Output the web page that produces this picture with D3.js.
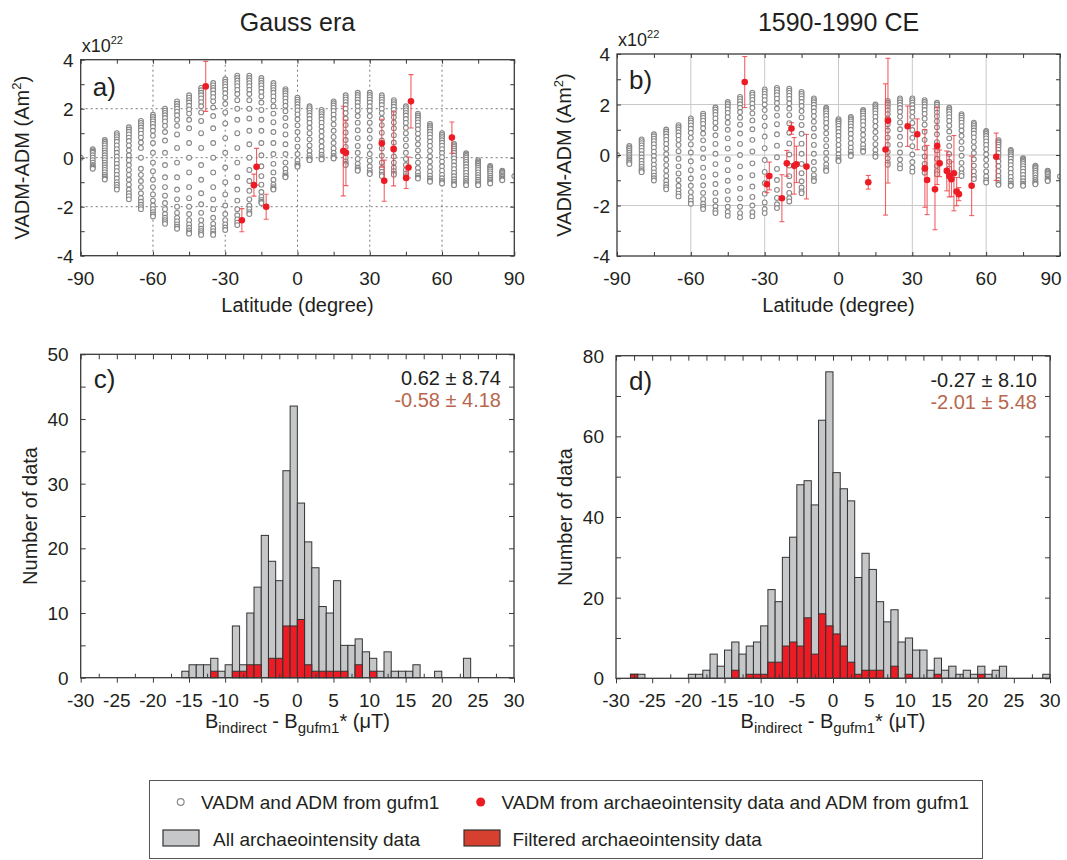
<!DOCTYPE html>
<html>
<head>
<meta charset="utf-8">
<script src="https://cdn.jsdelivr.net/npm/d3@7/dist/d3.min.js"></script>
<style>
    body { margin: 0; background: #fff; }
    svg text { font-family: "Liberation Sans", Arial, Helvetica, sans-serif; fill: #231f20; }
</style>
</head>
<body>
<svg id="fig" width="1067" height="860"></svg>
<script>
"use strict";

// gufm1 VADM-ADM (x1e22 Am2) per latitude column, Gauss era
var gaussCols = [
    [-90, [0]],
    [-85, [0.35, 0.3, 0.25, 0.2, 0.1, 0, -0.1, -0.2, -0.3, -0.35, -0.4, -0.45]],
    [-80, [0.72, 0.65, 0.58, 0.5, 0.4, 0.3, 0.2, 0.1, 0, -0.1, -0.2, -0.3, -0.4, -0.5, -0.6, -0.7, -0.78, -0.85, -0.89]],
    [-75, [1.0, 0.92, 0.84, 0.75, 0.65, 0.5, 0.35, 0.2, 0.05, -0.1, -0.25, -0.4, -0.55, -0.7, -0.85, -1.0, -1.1, -1.2, -1.3]],
    [-70, [1.24, 1.15, 1.06, 0.95, 0.82, 0.68, 0.5, 0.3, 0.1, -0.1, -0.3, -0.5, -0.7, -0.9, -1.1, -1.3, -1.45, -1.57, -1.7]],
    [-65, [1.5, 1.42, 1.33, 1.23, 1.12, 0.98, 0.82, 0.62, 0.4, 0, -0.45, -0.7, -0.95, -1.2, -1.45, -1.65, -1.8, -1.92, -2.02, -2.1]],
    [-60, [1.75, 1.66, 1.57, 1.48, 1.38, 1.25, 1.1, 0.9, 0.6, 0.2, -0.2, -0.55, -0.9, -1.2, -1.5, -1.75, -1.95, -2.1, -2.22, -2.32, -2.4]],
    [-55, [2.0, 1.92, 1.83, 1.73, 1.62, 1.48, 1.3, 1.05, 0.7, 0.2, -0.3, -0.8, -1.2, -1.55, -1.85, -2.1, -2.3, -2.45, -2.55, -2.63, -2.7]],
    [-50, [2.3, 2.2, 2.1, 2.0, 1.88, 1.73, 1.55, 1.3, 0.95, 0.4, -0.2, -0.8, -1.3, -1.7, -2.0, -2.25, -2.45, -2.6, -2.72, -2.82, -2.9]],
    [-45, [2.55, 2.45, 2.35, 2.25, 2.12, 1.97, 1.8, 1.55, 1.2, 0.6, 0, -0.6, -1.2, -1.65, -2.0, -2.3, -2.55, -2.72, -2.86, -2.97, -3.05, -3.1]],
    [-40, [2.85, 2.75, 2.65, 2.55, 2.42, 2.27, 2.1, 1.85, 1.5, 1.0, 0.4, -0.3, -0.9, -1.45, -1.9, -2.25, -2.55, -2.75, -2.9, -3.0, -3.08, -3.15]],
    [-35, [3.05, 2.95, 2.85, 2.75, 2.62, 2.47, 2.3, 2.05, 1.7, 1.2, 0.6, 0, -0.6, -1.2, -1.7, -2.1, -2.45, -2.7, -2.88, -3.0, -3.1, -3.15]],
    [-30, [3.2, 3.1, 3.0, 2.9, 2.78, 2.63, 2.45, 2.2, 1.85, 1.4, 0.8, 0.2, -0.4, -1.0, -1.5, -1.95, -2.3, -2.55, -2.72, -2.85, -2.95]],
    [-25, [3.35, 3.25, 3.15, 3.04, 2.92, 2.77, 2.6, 2.35, 2.0, 1.55, 1.0, 0.4, -0.2, -0.8, -1.3, -1.75, -2.1, -2.35, -2.52, -2.65, -2.75]],
    [-20, [3.35, 3.25, 3.15, 3.04, 2.92, 2.77, 2.6, 2.35, 2.0, 1.6, 1.1, 0.55, 0, -0.5, -0.95, -1.35, -1.7, -1.95, -2.1, -2.22, -2.3]],
    [-15, [3.25, 3.15, 3.05, 2.95, 2.83, 2.68, 2.5, 2.25, 1.95, 1.55, 1.1, 0.6, 0.1, -0.35, -0.75, -1.1, -1.4, -1.6, -1.72, -1.8, -1.85]],
    [-10, [3.05, 2.95, 2.86, 2.76, 2.65, 2.5, 2.33, 2.1, 1.8, 1.45, 1.05, 0.6, 0.15, -0.25, -0.6, -0.9, -1.1, -1.2, -1.27, -1.3]],
    [-5, [2.8, 2.72, 2.63, 2.53, 2.42, 2.28, 2.12, 1.9, 1.62, 1.3, 0.95, 0.55, 0.15, -0.2, -0.45, -0.62, -0.72, -0.78, -0.8]],
    [0, [2.45, 2.37, 2.28, 2.18, 2.07, 1.93, 1.77, 1.57, 1.32, 1.05, 0.75, 0.45, 0.15, -0.1, -0.25, -0.32, -0.37]],
    [5, [2.1, 2.02, 1.93, 1.83, 1.72, 1.58, 1.42, 1.22, 1.0, 0.75, 0.5, 0.28, 0.1, -0.02, -0.08, -0.1]],
    [10, [1.95, 1.87, 1.78, 1.68, 1.57, 1.43, 1.27, 1.08, 0.88, 0.67, 0.46, 0.27, 0.12, 0.02, -0.04, -0.07]],
    [15, [2.3, 2.22, 2.13, 2.03, 1.91, 1.76, 1.58, 1.36, 1.1, 0.85, 0.6, 0.38, 0.2, 0.07, 0, -0.03]],
    [20, [2.55, 2.46, 2.37, 2.27, 2.15, 2.0, 1.82, 1.6, 1.33, 1.03, 0.72, 0.44, 0.2, 0, -0.15, -0.24, -0.3]],
    [25, [2.65, 2.56, 2.47, 2.37, 2.25, 2.1, 1.92, 1.7, 1.43, 1.12, 0.8, 0.48, 0.2, -0.05, -0.25, -0.4, -0.48, -0.53]],
    [30, [2.65, 2.56, 2.47, 2.37, 2.25, 2.1, 1.92, 1.7, 1.43, 1.12, 0.8, 0.46, 0.15, -0.12, -0.35, -0.52, -0.62, -0.67]],
    [35, [2.55, 2.46, 2.37, 2.27, 2.15, 2.0, 1.82, 1.6, 1.33, 1.02, 0.7, 0.38, 0.08, -0.2, -0.42, -0.58, -0.69, -0.75]],
    [40, [2.35, 2.27, 2.18, 2.08, 1.96, 1.82, 1.65, 1.44, 1.2, 0.92, 0.62, 0.32, 0.05, -0.2, -0.4, -0.55, -0.65, -0.7]],
    [45, [2.1, 2.02, 1.93, 1.83, 1.72, 1.58, 1.42, 1.22, 1.0, 0.75, 0.48, 0.2, -0.05, -0.3, -0.5, -0.65, -0.75, -0.82]],
    [50, [1.8, 1.72, 1.64, 1.55, 1.44, 1.31, 1.16, 0.98, 0.78, 0.55, 0.3, 0.05, -0.2, -0.42, -0.6, -0.73, -0.81, -0.85]],
    [55, [1.38, 1.31, 1.24, 1.16, 1.06, 0.95, 0.82, 0.66, 0.48, 0.28, 0.06, -0.16, -0.38, -0.57, -0.73, -0.85, -0.93, -0.98]],
    [60, [1.0, 0.94, 0.87, 0.8, 0.71, 0.61, 0.49, 0.35, 0.19, 0.02, -0.16, -0.35, -0.53, -0.7, -0.84, -0.95, -1.01, -1.05]],
    [65, [0.56, 0.5, 0.44, 0.37, 0.29, 0.2, 0.09, -0.03, -0.17, -0.32, -0.47, -0.62, -0.76, -0.88, -0.98, -1.05, -1.1, -1.12]],
    [70, [0.18, 0.13, 0.07, 0, -0.08, -0.17, -0.27, -0.38, -0.5, -0.62, -0.74, -0.85, -0.95, -1.03, -1.08, -1.12]],
    [75, [-0.1, -0.15, -0.2, -0.26, -0.33, -0.41, -0.5, -0.6, -0.7, -0.8, -0.9, -0.98, -1.05, -1.1, -1.12]],
    [80, [-0.34, -0.38, -0.43, -0.49, -0.56, -0.64, -0.73, -0.82, -0.9, -0.97, -1.02, -1.05]],
    [85, [-0.53, -0.57, -0.62, -0.67, -0.73, -0.79, -0.85, -0.89, -0.92]],
    [90, [-0.75]]
];

// gufm1 VADM-ADM per latitude column, 1590-1990 CE
var histCols = [
    [-90, [0]],
    [-85, [0.36, 0.3, 0.24, 0.17, 0.09, 0, -0.09, -0.17, -0.24, -0.3, -0.36]],
    [-80, [0.62, 0.55, 0.47, 0.38, 0.28, 0.16, 0.03, -0.1, -0.23, -0.35, -0.46, -0.56, -0.63, -0.68]],
    [-75, [0.82, 0.74, 0.65, 0.55, 0.43, 0.29, 0.13, -0.04, -0.21, -0.38, -0.54, -0.69, -0.82, -0.92, -1.01]],
    [-70, [1.01, 0.93, 0.84, 0.73, 0.6, 0.44, 0.25, 0.04, -0.18, -0.4, -0.62, -0.83, -1.02, -1.17, -1.28, -1.36]],
    [-65, [1.18, 1.1, 1.01, 0.9, 0.77, 0.6, 0.4, 0.15, -0.15, -0.45, -0.73, -0.99, -1.22, -1.4, -1.53, -1.64]],
    [-60, [1.45, 1.37, 1.28, 1.17, 1.04, 0.88, 0.68, 0.42, 0.1, -0.25, -0.6, -0.93, -1.22, -1.47, -1.67, -1.82, -1.93]],
    [-55, [1.64, 1.56, 1.47, 1.36, 1.23, 1.06, 0.85, 0.58, 0.25, -0.12, -0.5, -0.87, -1.2, -1.5, -1.75, -1.93, -2.05, -2.14]],
    [-50, [1.88, 1.8, 1.7, 1.59, 1.45, 1.28, 1.06, 0.78, 0.44, 0.05, -0.36, -0.77, -1.15, -1.5, -1.8, -2.03, -2.2, -2.3]],
    [-45, [2.1, 2.02, 1.92, 1.81, 1.67, 1.5, 1.28, 1.0, 0.66, 0.26, -0.17, -0.6, -1.02, -1.42, -1.76, -2.05, -2.26, -2.41]],
    [-40, [2.3, 2.22, 2.12, 2.01, 1.87, 1.7, 1.48, 1.2, 0.85, 0.44, 0, -0.45, -0.9, -1.33, -1.72, -2.05, -2.3, -2.47]],
    [-35, [2.47, 2.39, 2.29, 2.18, 2.04, 1.87, 1.65, 1.37, 1.02, 0.6, 0.14, -0.33, -0.8, -1.25, -1.66, -2.0, -2.27, -2.43]],
    [-30, [2.6, 2.52, 2.42, 2.31, 2.17, 2.0, 1.78, 1.5, 1.15, 0.73, 0.27, -0.2, -0.67, -1.12, -1.53, -1.88, -2.14, -2.3]],
    [-25, [2.66, 2.58, 2.48, 2.37, 2.23, 2.06, 1.84, 1.56, 1.22, 0.82, 0.37, -0.09, -0.55, -0.99, -1.38, -1.7, -1.95, -2.1]],
    [-20, [2.63, 2.55, 2.46, 2.35, 2.22, 2.05, 1.84, 1.58, 1.26, 0.88, 0.46, 0.02, -0.42, -0.84, -1.2, -1.5, -1.71, -1.84]],
    [-15, [2.5, 2.42, 2.33, 2.23, 2.1, 1.94, 1.74, 1.49, 1.19, 0.84, 0.45, 0.05, -0.35, -0.72, -1.04, -1.29, -1.44, -1.51]],
    [-10, [2.24, 2.17, 2.09, 1.99, 1.87, 1.72, 1.54, 1.32, 1.05, 0.74, 0.4, 0.05, -0.28, -0.57, -0.8, -0.95, -1.03]],
    [-5, [1.87, 1.81, 1.74, 1.65, 1.55, 1.42, 1.27, 1.08, 0.86, 0.61, 0.35, 0.09, -0.16, -0.37, -0.52, -0.6, -0.63]],
    [0, [1.42, 1.37, 1.31, 1.24, 1.15, 1.04, 0.91, 0.76, 0.59, 0.4, 0.21, 0.03, -0.11, -0.2, -0.24]],
    [5, [1.51, 1.46, 1.4, 1.33, 1.24, 1.13, 1.0, 0.84, 0.66, 0.47, 0.29, 0.13, 0.02, -0.04]],
    [10, [1.78, 1.72, 1.65, 1.56, 1.46, 1.33, 1.18, 1.0, 0.8, 0.6, 0.41, 0.26, 0.16, 0.13]],
    [15, [2.0, 1.93, 1.85, 1.76, 1.65, 1.51, 1.34, 1.14, 0.91, 0.67, 0.43, 0.2, 0.02, -0.07]],
    [20, [2.14, 2.07, 1.99, 1.89, 1.77, 1.62, 1.44, 1.22, 0.97, 0.69, 0.4, 0.12, -0.13, -0.3, -0.39]],
    [25, [2.24, 2.17, 2.08, 1.98, 1.86, 1.71, 1.52, 1.29, 1.02, 0.72, 0.41, 0.1, -0.18, -0.39, -0.53]],
    [30, [2.24, 2.17, 2.08, 1.98, 1.85, 1.7, 1.51, 1.27, 0.99, 0.68, 0.35, 0.02, -0.28, -0.5, -0.66]],
    [35, [2.17, 2.1, 2.01, 1.91, 1.78, 1.63, 1.44, 1.2, 0.92, 0.6, 0.27, -0.06, -0.35, -0.57, -0.7]],
    [40, [2.07, 2.0, 1.91, 1.81, 1.68, 1.53, 1.34, 1.1, 0.82, 0.51, 0.18, -0.15, -0.43, -0.64, -0.76]],
    [45, [1.87, 1.8, 1.72, 1.62, 1.5, 1.35, 1.16, 0.93, 0.66, 0.36, 0.04, -0.27, -0.54, -0.75, -0.86]],
    [50, [1.62, 1.56, 1.48, 1.39, 1.28, 1.14, 0.97, 0.76, 0.52, 0.25, -0.03, -0.31, -0.55, -0.73, -0.83]],
    [55, [1.28, 1.22, 1.15, 1.07, 0.97, 0.85, 0.7, 0.52, 0.31, 0.08, -0.17, -0.42, -0.65, -0.83, -0.95]],
    [60, [0.95, 0.9, 0.83, 0.75, 0.66, 0.54, 0.4, 0.23, 0.03, -0.19, -0.42, -0.65, -0.85, -1.0, -1.09]],
    [65, [0.59, 0.54, 0.48, 0.41, 0.32, 0.21, 0.08, -0.07, -0.25, -0.44, -0.64, -0.83, -0.99, -1.11, -1.18]],
    [70, [0.2, 0.16, 0.1, 0.03, -0.05, -0.15, -0.27, -0.4, -0.55, -0.71, -0.87, -1.02, -1.13, -1.2, -1.22]],
    [75, [-0.13, -0.17, -0.22, -0.28, -0.35, -0.44, -0.54, -0.66, -0.79, -0.92, -1.04, -1.14, -1.2, -1.22]],
    [80, [-0.42, -0.45, -0.5, -0.56, -0.63, -0.71, -0.8, -0.9, -0.99, -1.07, -1.13, -1.16]],
    [85, [-0.62, -0.65, -0.69, -0.74, -0.8, -0.87, -0.93, -0.98, -1.01, -1.03]],
    [90, [-0.85]]
];

// archaeointensity VADM - gufm1 ADM: [latitude, value, error]
var gaussArch = [
    [-38.1, 2.91, 1.02], [-23.1, -2.55, 0.47], [-18.1, -1.12, 0.45], [-17.0, -0.37, 0.75],
    [-13.0, -2.0, 0.51], [19.0, 0.27, 1.83], [20.1, 0.2, 1.34], [35.0, 0.59, 0.98],
    [36.0, -0.94, 0.84], [39.9, 0.36, 1.51], [45.1, -0.83, 0.43], [46.1, -0.4, 0.43],
    [47.1, 2.3, 1.09], [64.1, 0.82, 0.64]
];

var histArch = [
    [-38.1, 2.89, 1.01], [-29.1, -1.16, 0.33], [-28.1, -0.83, 0.55], [-23.0, -1.71, 0.93],
    [-21.0, -0.33, 0.51], [-19.1, 1.05, 0.23], [-18.0, -0.43, 1.12], [-17.1, -0.37, 0.72],
    [-13.0, -0.46, 1.28], [12.1, -1.08, 0.27], [19.1, 0.22, 2.6], [20.1, 1.36, 2.47],
    [28.1, 1.14, 0.8], [32.0, 0.82, 0.61], [35.1, -0.53, 1.54], [36.0, -0.99, 1.37],
    [39.2, -1.36, 1.6], [40.1, 0.36, 1.53], [41.1, -0.33, 0.53], [44.0, -0.63, 0.79],
    [45.0, -0.82, 0.84], [45.9, -0.96, 0.69], [46.9, -0.72, 1.49], [48.0, -1.45, 0.56],
    [48.9, -1.55, 0.26], [54.1, -1.22, 1.18], [64.1, -0.07, 0.94]
];

// histogram bins (1 uT wide): [left edge, all data, filtered data]
var gaussBins = [
    [-16, 1, 0], [-15, 2, 0], [-14, 2, 0], [-13, 2, 0], [-12, 3, 1], [-11, 1, 0], [-10, 2, 0],
    [-9, 8, 1], [-8, 2, 1], [-7, 10, 2], [-6, 14, 2], [-5, 22, 0], [-4, 18, 3], [-3, 15, 3],
    [-2, 32, 8], [-1, 42, 8], [0, 27, 9], [1, 21, 2], [2, 17, 1], [3, 11, 1], [4, 10, 1],
    [5, 15, 1], [6, 5, 1], [7, 5, 0], [8, 6, 2], [9, 4, 0], [10, 3, 1], [11, 1, 0],
    [12, 4, 0], [13, 1, 0], [14, 1, 0], [15, 1, 0], [16, 2, 0], [19, 1, 0], [23, 3, 0]
];

var histBins = [
    [-28, 1, 1], [-27, 1, 0], [-20, 1, 0], [-19, 1, 0], [-18, 2, 0], [-17, 6, 0], [-16, 3, 0],
    [-15, 7, 0], [-14, 9, 2], [-13, 6, 0], [-12, 8, 1], [-11, 9, 1], [-10, 13, 1], [-9, 22, 4],
    [-8, 19, 4], [-7, 30, 8], [-6, 35, 9], [-5, 48, 8], [-4, 49, 15], [-3, 43, 6], [-2, 64, 16],
    [-1, 76, 13], [0, 51, 11], [1, 47, 8], [2, 44, 4], [3, 25, 1], [4, 31, 2], [5, 27, 2],
    [6, 19, 2], [7, 14, 0], [8, 17, 3], [9, 9, 0], [10, 10, 1], [11, 7, 0], [12, 7, 0],
    [13, 2, 0], [14, 5, 1], [15, 2, 0], [16, 3, 0], [17, 1, 0], [18, 2, 0], [19, 1, 0],
    [20, 3, 1], [21, 1, 0], [22, 2, 0], [23, 3, 0], [29, 1, 0]
];

var latTicks = [-90, -60, -30, 0, 30, 60, 90];
var vadmTicks = [-4, -2, 0, 2, 4];
var diffTicks = [-30, -25, -20, -15, -10, -5, 0, 5, 10, 15, 20, 25, 30];
var gaussCountTicks = [0, 10, 20, 30, 40, 50];
var histCountTicks = [0, 20, 40, 60, 80];
var gaussStats = ["0.62 \u00b1 8.74", "-0.58 \u00b1 4.18"];
var histStats = ["-0.27 \u00b1 8.10", "-2.01 \u00b1 5.48"];

var RED = "#ed1c24",
    GREY_FILL = "#c6c7c9",
    FRAME = "#3a3a3a",
    TICK_FS = "19px",
    svg = d3.select("#fig");

function addTicks(g, box, x, y, xVals, yVals, len) {
    g.append("g").attr("transform", "translate(0," + box.y1 + ")")
        .call(d3.axisBottom(x).tickValues(xVals).tickSize(-len).tickFormat(""));
    g.append("g").attr("transform", "translate(0," + box.y0 + ")")
        .call(d3.axisTop(x).tickValues(xVals).tickSize(-len).tickFormat(""));
    g.append("g").attr("transform", "translate(" + box.x0 + ",0)")
        .call(d3.axisLeft(y).tickValues(yVals).tickSize(-len).tickFormat(""));
    g.append("g").attr("transform", "translate(" + box.x1 + ",0)")
        .call(d3.axisRight(y).tickValues(yVals).tickSize(-len).tickFormat(""));
    g.selectAll(".domain").remove();
    g.selectAll(".tick line").attr("stroke", FRAME).attr("stroke-width", 1);
}

function scatterPanel(box, cols, arch, dotted, letter, title, yLabelX) {
    var g = svg.append("g"),
        x = d3.scaleLinear().domain([-90, 90]).range([box.x0, box.x1]),
        y = d3.scaleLinear().domain([-4, 4]).range([box.y1, box.y0]),
        clipId = "clip" + letter,
        pts = [],
        plot;

    cols.forEach(function (c) {
        c[1].forEach(function (v) { pts.push({lat: c[0], v: v}); });
    });

    g.append("clipPath").attr("id", clipId).append("rect")
        .attr("x", box.x0).attr("y", box.y0)
        .attr("width", box.x1 - box.x0).attr("height", box.y1 - box.y0);

    // grid
    var grid = g.append("g")
        .attr("stroke", dotted ? "#6d6d6d" : "#c9c9c9")
        .attr("stroke-width", dotted ? 0.9 : 1)
        .attr("stroke-dasharray", dotted ? "2,3" : null);
    grid.selectAll("line.gx").data([-60, -30, 0, 30, 60]).enter().append("line")
        .attr("x1", function (d) { return x(d); }).attr("x2", function (d) { return x(d); })
        .attr("y1", box.y0).attr("y2", box.y1);
    grid.selectAll("line.gy").data([-2, 0, 2]).enter().append("line")
        .attr("y1", function (d) { return y(d); }).attr("y2", function (d) { return y(d); })
        .attr("x1", box.x0).attr("x2", box.x1);

    plot = g.append("g").attr("clip-path", "url(#" + clipId + ")");

    plot.selectAll("circle.model").data(pts).enter().append("circle")
        .attr("cx", function (d) { return x(d.lat); })
        .attr("cy", function (d) { return y(d.v); })
        .attr("r", 2.4)
        .attr("fill", "#fff")
        .attr("stroke", "#878787")
        .attr("stroke-width", 1.1);

    var eb = plot.selectAll("g.err").data(arch).enter().append("g")
        .attr("stroke", "#f0454b").attr("stroke-width", 1.1).attr("stroke-opacity", 0.85);
    eb.append("line")
        .attr("x1", function (d) { return x(d[0]); }).attr("x2", function (d) { return x(d[0]); })
        .attr("y1", function (d) { return y(d[1] + d[2]); })
        .attr("y2", function (d) { return y(d[1] - d[2]); });
    [1, -1].forEach(function (s) {
        eb.append("line")
            .attr("x1", function (d) { return x(d[0]) - 2.5; })
            .attr("x2", function (d) { return x(d[0]) + 2.5; })
            .attr("y1", function (d) { return y(d[1] + s * d[2]); })
            .attr("y2", function (d) { return y(d[1] + s * d[2]); });
    });
    plot.selectAll("circle.arch").data(arch).enter().append("circle")
        .attr("cx", function (d) { return x(d[0]); })
        .attr("cy", function (d) { return y(d[1]); })
        .attr("r", 3.3)
        .attr("fill", RED);

    addTicks(g, box, x, y, d3.range(-90, 91, 15), d3.range(-4, 5, 1), 4);

    g.append("rect")
        .attr("x", box.x0).attr("y", box.y0)
        .attr("width", box.x1 - box.x0).attr("height", box.y1 - box.y0)
        .attr("fill", "none").attr("stroke", FRAME).attr("stroke-width", 1.3);

    // tick labels
    g.selectAll("text.xt").data(latTicks).enter().append("text")
        .attr("x", function (d) { return Math.min(x(d), 1051); })
        .attr("y", box.y1 + 29)
        .attr("text-anchor", "middle")
        .style("font-size", TICK_FS)
        .text(function (d) { return String(d); });
    g.selectAll("text.yt").data(vadmTicks).enter().append("text")
        .attr("x", box.x0 - 7)
        .attr("y", function (d) { return y(d) + 7; })
        .attr("text-anchor", "end")
        .style("font-size", TICK_FS)
        .text(function (d) { return String(d); });

    // axis titles
    g.append("text")
        .attr("x", (box.x0 + box.x1) / 2).attr("y", box.y1 + 56)
        .attr("text-anchor", "middle").style("font-size", "20px")
        .text("Latitude (degree)");
    var yl = g.append("text")
        .attr("transform", "translate(" + yLabelX + "," + ((box.y0 + box.y1) / 2) + ") rotate(-90)")
        .attr("text-anchor", "middle").style("font-size", "20px");
    yl.append("tspan").text("VADM-ADM (Am");
    yl.append("tspan").attr("dy", -8).style("font-size", "13px").text("2");
    yl.append("tspan").attr("dy", 8).text(")");

    var ex = g.append("text").attr("x", box.x0 + 1).attr("y", box.y0 - 8).style("font-size", "18px");
    ex.append("tspan").text("x10");
    ex.append("tspan").attr("dy", -8).style("font-size", "11px").text("22");

    g.append("text")
        .attr("x", box.x0 + 12).attr("y", box.y0 + (letter === "a" ? 36 : 35))
        .style("font-size", "26px").text(letter + ")");

    g.append("text")
        .attr("x", (box.x0 + box.x1) / 2).attr("y", 31)
        .attr("text-anchor", "middle").style("font-size", "25px")
        .text(title);
}

function histPanel(box, bins, yMax, yTicks, yMinor, stats, letter, yLabelX) {
    var g = svg.append("g"),
        x = d3.scaleLinear().domain([-30, 30]).range([box.x0, box.x1]),
        y = d3.scaleLinear().domain([0, yMax]).range([box.y1, box.y0]);

    g.selectAll("rect.all").data(bins).enter().append("rect")
        .attr("x", function (d) { return x(d[0]); })
        .attr("width", function (d) { return x(d[0] + 1) - x(d[0]); })
        .attr("y", function (d) { return y(d[1]); })
        .attr("height", function (d) { return y(0) - y(d[1]); })
        .attr("fill", GREY_FILL).attr("stroke", "#333").attr("stroke-width", 1);

    g.selectAll("rect.filt").data(bins.filter(function (d) { return d[2] > 0; }))
        .enter().append("rect")
        .attr("x", function (d) { return x(d[0]); })
        .attr("width", function (d) { return x(d[0] + 1) - x(d[0]); })
        .attr("y", function (d) { return y(d[2]); })
        .attr("height", function (d) { return y(0) - y(d[2]); })
        .attr("fill", RED).attr("stroke", "#333").attr("stroke-width", 1);

    // minor ticks inside, major ticks on bottom point outward
    var minorX = d3.range(-27.5, 30, 5);
    g.append("g").attr("transform", "translate(0," + box.y1 + ")")
        .call(d3.axisBottom(x).tickValues(diffTicks).tickSize(5).tickFormat(""));
    g.append("g").attr("transform", "translate(0," + box.y1 + ")")
        .call(d3.axisBottom(x).tickValues(minorX).tickSize(-4).tickFormat(""));
    g.append("g").attr("transform", "translate(0," + box.y0 + ")")
        .call(d3.axisTop(x).tickValues(d3.range(-30, 31, 2.5)).tickSize(-5).tickFormat(""));
    g.append("g").attr("transform", "translate(" + box.x0 + ",0)")
        .call(d3.axisLeft(y).tickValues(d3.range(0, yMax + 1, yMinor)).tickSize(-5).tickFormat(""));
    g.append("g").attr("transform", "translate(" + box.x1 + ",0)")
        .call(d3.axisRight(y).tickValues(d3.range(0, yMax + 1, yMinor)).tickSize(-5).tickFormat(""));
    g.selectAll(".domain").remove();
    g.selectAll(".tick line").attr("stroke", FRAME).attr("stroke-width", 1);

    g.append("rect")
        .attr("x", box.x0).attr("y", box.y0)
        .attr("width", box.x1 - box.x0).attr("height", box.y1 - box.y0)
        .attr("fill", "none").attr("stroke", FRAME).attr("stroke-width", 1.3);

    g.selectAll("text.xt").data(diffTicks).enter().append("text")
        .attr("x", function (d) { return x(d); })
        .attr("y", box.y1 + 29)
        .attr("text-anchor", "middle").style("font-size", TICK_FS)
        .text(function (d) { return String(d); });
    g.selectAll("text.yt").data(yTicks).enter().append("text")
        .attr("x", box.x0 - 12)
        .attr("y", function (d) { return y(d) + 7; })
        .attr("text-anchor", "end").style("font-size", TICK_FS)
        .text(function (d) { return String(d); });

    var xl = g.append("text")
        .attr("x", (box.x0 + box.x1) / 2).attr("y", box.y1 + 50)
        .attr("text-anchor", "middle").style("font-size", "20px");
    xl.append("tspan").text("B");
    xl.append("tspan").attr("dy", 5).style("font-size", "15px").text("indirect");
    xl.append("tspan").attr("dy", -5).text(" - B");
    xl.append("tspan").attr("dy", 5).style("font-size", "15px").text("gufm1");
    xl.append("tspan").attr("dy", -5).text("* (\u03bcT)");

    g.append("text")
        .attr("transform", "translate(" + yLabelX + "," + ((box.y0 + box.y1) / 2) + ") rotate(-90)")
        .attr("text-anchor", "middle").style("font-size", "20px")
        .text("Number of data");

    g.append("text")
        .attr("x", box.x0 + 13).attr("y", box.y0 + 34)
        .style("font-size", "26px").text(letter + ")");

    g.append("text")
        .attr("x", box.x1 - 13).attr("y", box.y0 + 31)
        .attr("text-anchor", "end").style("font-size", "20px")
        .text(stats[0]);
    g.append("text")
        .attr("x", box.x1 - 13).attr("y", box.y0 + 53)
        .attr("text-anchor", "end").style("font-size", "20px")
        .style("fill", "#b8664c")
        .text(stats[1]);
}

scatterPanel({x0: 80.7, x1: 514.3, y0: 59.7, y1: 255.7}, gaussCols, gaussArch, true, "a", "Gauss era", 29);
scatterPanel({x0: 617, x1: 1060, y0: 54, y1: 256}, histCols, histArch, false, "b", "1590-1990 CE", 571);
histPanel({x0: 80.7, x1: 514, y0: 354.3, y1: 677.7}, gaussBins, 50, gaussCountTicks, 5, gaussStats, "c", 37);
histPanel({x0: 616, x1: 1050, y0: 355.7, y1: 678.3}, histBins, 80, histCountTicks, 10, histStats, "d", 572);

// legend
var leg = svg.append("g");
leg.append("rect")
    .attr("x", 149.5).attr("y", 780.5).attr("width", 833).attr("height", 78)
    .attr("fill", "#fff").attr("stroke", "#555").attr("stroke-width", 1);
leg.append("circle").attr("cx", 180.7).attr("cy", 802).attr("r", 3.4)
    .attr("fill", "#fff").attr("stroke", "#8c8c8c").attr("stroke-width", 1.2);
leg.append("text").attr("x", 201).attr("y", 808.5).style("font-size", "19px")
    .text("VADM and ADM from gufm1");
leg.append("circle").attr("cx", 480.7).attr("cy", 802).attr("r", 4.5).attr("fill", RED);
leg.append("text").attr("x", 501.5).attr("y", 808.5).style("font-size", "19px")
    .text("VADM from archaeointensity data and ADM from gufm1");
leg.append("rect").attr("x", 163).attr("y", 830).attr("width", 36).attr("height", 16)
    .attr("fill", GREY_FILL).attr("stroke", "#333").attr("stroke-width", 1.2);
leg.append("text").attr("x", 213).attr("y", 845.5).style("font-size", "19px")
    .text("All archaeointensity data");
leg.append("rect").attr("x", 464).attr("y", 830).attr("width", 36).attr("height", 16)
    .attr("fill", "#d6402e").attr("stroke", "#333").attr("stroke-width", 1.2);
leg.append("text").attr("x", 512.5).attr("y", 845.5).style("font-size", "19px")
    .text("Filtered archaeointensity data");
</script>
</body>
</html>
